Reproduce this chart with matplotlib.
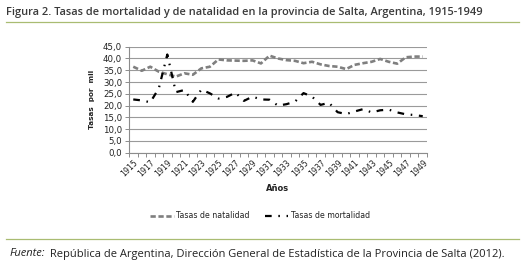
import matplotlib
matplotlib.use("Agg")
import matplotlib.pyplot as plt
from matplotlib.lines import Line2D

years = list(range(1915, 1950))
natalidad = [36.5, 34.8, 36.5, 34.4, 33.3, 32.3, 33.7, 33.1, 35.8, 36.5,
             39.6, 39.2, 39.1, 39.0, 39.2, 37.9, 41.2, 40.0, 39.3, 39.0,
             38.0, 38.6, 37.5, 36.8, 36.5, 35.5, 37.3, 38.0, 38.6, 39.8,
             38.6, 37.8, 40.5, 40.8, 40.8]
mortalidad = [22.6, 22.2, 21.4, 27.3, 41.7, 25.7, 26.6, 21.6, 26.8, 25.2,
              23.0, 23.7, 25.5, 22.0, 23.8, 22.6, 22.5, 20.0, 20.6, 21.7,
              25.3, 23.8, 20.3, 21.2, 17.2, 16.4, 17.5, 18.5, 17.1, 18.0,
              18.3, 17.1, 16.3, 16.0, 15.5]
yticks = [0, 5, 10, 15, 20, 25, 30, 35, 40, 45]
title = "Figura 2. Tasas de mortalidad y de natalidad en la provincia de Salta, Argentina, 1915-1949"
label_nat = "Tasas de natalidad"
label_mor = "Tasas de mortalidad"

W, H = 524, 272
fig = plt.figure(figsize=(W/100, H/100), dpi=100)
fig.patch.set_facecolor("white")

# Title and rules
fig.text(6/W, 1-12/H, title, fontsize=7.9, family="Open Sans", fontweight="semibold",
         color="#3a3a3a", va="center", ha="left")
green = "#a9bc72"
fig.add_artist(Line2D([6/W, 519/W], [1-22/H, 1-22/H], color=green, lw=0.9))
fig.add_artist(Line2D([6/W, 519/W], [1-239/H, 1-239/H], color=green, lw=0.9))

# Source
t1 = fig.text(10/W, 1-254/H, "Fuente:", fontsize=8.0, family="Open Sans", style="italic",
              color="#222222", va="center", ha="left")
fig.text(47/W, 1-254/H, " República de Argentina, Dirección General de Estadística de la Provincia de Salta (2012).",
         fontsize=8.0, family="Open Sans", color="#222222", va="center", ha="left")

ax = fig.add_axes([129/W, 1-152.7/H, (427-129)/W, (152.7-46.7)/H])
x = list(range(len(years)))
ax.plot(x, natalidad, color="#7f7f7f", lw=1.9, dashes=(2.0, 1.0), dash_capstyle="butt")
ax.plot(x, mortalidad, color="#000000", lw=1.6, dashes=(3.0, 3.0, 0.7, 3.0), dash_capstyle="butt")

ax.set_xlim(-0.5, len(years)-0.5)
ax.set_ylim(0, 45)
ax.set_yticks(yticks)
ax.set_yticklabels([f"{v:.1f}".replace(".", ",") for v in yticks], fontsize=6.2, color="#222222")
ax.yaxis.grid(True, color="#9a9a9a", lw=0.8)
ax.set_axisbelow(True)
for s in ["top", "right"]:
    ax.spines[s].set_visible(False)
for s in ["left", "bottom"]:
    ax.spines[s].set_color("#8c8c8c")
    ax.spines[s].set_linewidth(0.8)
ax.tick_params(axis="y", length=3, width=0.7, color="#8c8c8c", pad=2)

ax.set_xticks([i - 0.5 for i in range(len(years)+1)], minor=True)
ax.set_xticks(x[::2])
ax.set_xticklabels([str(y) for y in years[::2]], rotation=45, fontsize=5.6,
                   ha="right", va="top", rotation_mode="anchor", color="#222222")
ax.tick_params(axis="x", which="major", length=0, pad=4)
ax.tick_params(axis="x", which="minor", length=3, width=0.7, color="#8c8c8c")

ax.set_xlabel("Años", fontsize=6, fontweight="bold", labelpad=4, color="#222222")
ax.set_ylabel("Tasas  por  mil", fontsize=5.2, fontweight="bold", labelpad=6, color="#222222")

h1 = Line2D([], [], color="#7f7f7f", lw=1.9, dashes=(2.0, 1.0))
h2 = Line2D([], [], color="#000000", lw=1.6, dashes=(3.0, 3.0, 0.7, 3.0))
fig.legend([h1, h2], [label_nat, label_mor], loc="center", bbox_to_anchor=(260/W, 1-216/H),
           ncol=2, frameon=False, fontsize=5.6, handlelength=3.0, handletextpad=0.3,
           columnspacing=2.0, labelcolor="#222222")

fig.savefig("out.png", dpi=100, facecolor="white")
